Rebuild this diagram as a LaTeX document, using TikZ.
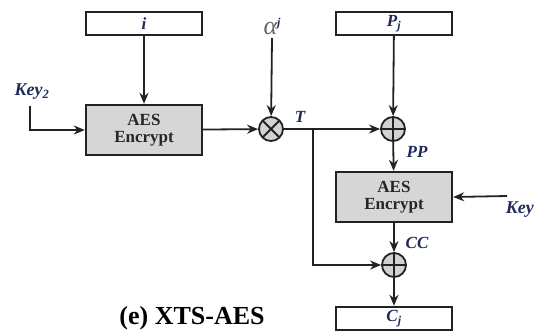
\documentclass[tikz,border=0pt]{standalone}
\usepackage{fontspec}
\setmainfont{Liberation Serif}
\usetikzlibrary{arrows.meta,calc}
\definecolor{labelblue}{HTML}{1E2A5A}
\definecolor{boxgray}{HTML}{D6D6D6}
\definecolor{opgray}{HTML}{D2D2D2}
\definecolor{linegray}{HTML}{222222}
\tikzset{
  dbox/.style={draw=linegray, line width=2.4pt, minimum width=116pt, minimum height=23pt,
    inner sep=0pt, fill=white},
  aesbox/.style={draw=linegray, line width=2.4pt, minimum width=116pt, minimum height=50pt,
    inner sep=0pt, fill=boxgray, align=center, font=\fontsize{17}{17}\selectfont\bfseries,
    text=black!85},
  opcirc/.style={circle, draw=linegray, line width=1.8pt, minimum size=24pt, inner sep=0pt,
    fill=opgray},
  lbl/.style={text=labelblue, font=\fontsize{17}{17}\selectfont\bfseries\itshape, inner sep=0pt},
  flow/.style={draw=linegray, line width=1.8pt, -{Stealth[length=11pt,width=9pt]}},
  wire/.style={draw=linegray, line width=1.8pt}
}
\begin{document}
\begin{tikzpicture}[x=1pt,y=-1pt]
  \useasboundingbox (0,0) rectangle (535,330);

  % input blocks
  \node[dbox] (ibox) at (144,23.5) {\textcolor{labelblue}{\fontsize{17}{17}\selectfont\bfseries\itshape i}};
  \node[dbox] (pbox) at (394,23.5) {\textcolor{labelblue}{\fontsize{17}{17}\selectfont\bfseries\itshape P\textsubscript{j}}};

  % tweak encryption
  \node[aesbox] (aes1) at (144,130) {AES\\Encrypt};
  \node[lbl, font=\fontsize{18}{18}\selectfont\bfseries\itshape] (key2) at (32,92) {Key\textsubscript{2}};
  \coordinate (k2) at (30,106);

  % multiplication by alpha^j
  \node[opcirc] (mult) at (271,129) {};
  \node[inner sep=0pt, text=black!60] (alpha) at (272,26)
    {\fontsize{26}{26}\selectfont\itshape α\raisebox{8pt}{\textcolor{labelblue}{\fontsize{12}{12}\selectfont\bfseries j}}};
  \coordinate (atop) at (272,38);
  \node[lbl] (tlab) at (300,117) {T};
  \coordinate (br) at (313,129);

  % first xor
  \node[opcirc] (xor1) at (393,129) {};
  \node[lbl] (pplab) at (417,152) {PP};

  % data encryption
  \node[aesbox] (aes2) at (394,197) {AES\\Encrypt};
  \coordinate (k1) at (507,196);
  \node[lbl, anchor=east, font=\fontsize{18}{18}\selectfont\bfseries\itshape] (key1) at (534,210) {Key};
  \node[lbl] (cclab) at (417,243) {CC};

  % second xor and output block
  \node[opcirc] (xor2) at (394,265) {};
  \node[dbox] (cbox) at (394,318.5) {\textcolor{labelblue}{\fontsize{17}{17}\selectfont\bfseries\itshape C\textsubscript{j}}};

  % caption
  \node[font=\fontsize{26}{26}\selectfont\bfseries, inner sep=0pt] (cap) at (192,318) {(e) XTS-AES};

  % connectors
  \draw[flow] (ibox) -- (aes1);
  \draw[flow] (k2) |- (aes1.west);
  \draw[flow] (aes1) -- (mult);
  \draw[flow] (atop) -- (mult);
  \draw[flow] (mult) -- (xor1);
  \draw[flow] (pbox) -- (xor1);
  \draw[flow] (xor1) -- (aes2);
  \draw[flow] (k1) -- (aes2.east);
  \draw[flow] (aes2) -- (xor2);
  \draw[flow] (br) |- (xor2.west);
  \draw[flow] (xor2) -- (cbox);

  % circle symbols
  \foreach \c in {xor1,xor2} {
    \draw[wire] (\c.north) -- (\c.south);
    \draw[wire] (\c.west) -- (\c.east);
  }
  \draw[wire] ($(mult.center)+(-8.5,-8.5)$) -- ($(mult.center)+(8.5,8.5)$);
  \draw[wire] ($(mult.center)+(-8.5,8.5)$) -- ($(mult.center)+(8.5,-8.5)$);
\end{tikzpicture}
\end{document}
